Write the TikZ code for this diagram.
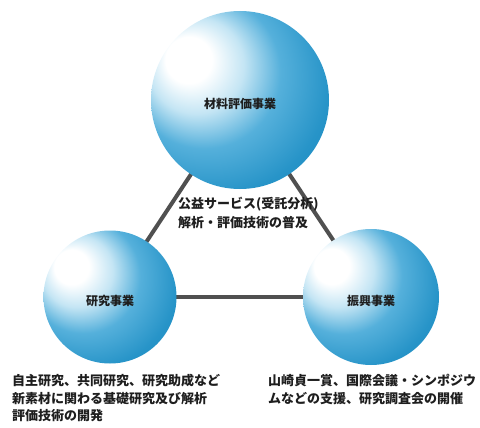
\documentclass[tikz,border=0pt]{standalone}
\usepackage{fontspec}
\newfontfamily\jpfont{Noto Sans CJK JP}
\usetikzlibrary{backgrounds}

\definecolor{textdark}{HTML}{1E1E1E}
\definecolor{linkgray}{HTML}{505050}
\definecolor{spherelight}{HTML}{C4E5F4}
\definecolor{spheremid}{HTML}{55B0DB}
\definecolor{spheredeep}{HTML}{2794C8}
\definecolor{spheredark}{HTML}{1181B8}
\definecolor{sphereedge}{HTML}{0A74A6}
% the sphere outline sits at about 35bp in shading units
\pgfdeclareradialshading{sphereshade}{\pgfpoint{-16.3bp}{12.7bp}}{%
  color(0bp)=(white); color(6.5bp)=(white); color(13.5bp)=(spherelight);
  color(21.5bp)=(spheremid); color(32bp)=(spheredeep);
  color(46bp)=(spheredark); color(56.6bp)=(sphereedge)}

\begin{document}
\begin{tikzpicture}[x=1pt, y=-1pt,
  sphere/.style={circle, shading=sphereshade, inner sep=0pt},
  sphere label/.style={yshift=-4pt, inner sep=0pt, text=textdark,
    font=\jpfont\bfseries\fontsize{12}{14}\selectfont},
  note/.style={align=left, inner sep=0pt, text=textdark, anchor=north west,
    font=\jpfont\bfseries\fontsize{13}{17.5}\selectfont},
  link/.style={linkgray, line width=4pt}]
  \useasboundingbox (0,0) rectangle (480,428);
  % Spheres
  \node[sphere, minimum size=178pt,
    label={[sphere label, name=evaltext]center:材料評価事業}] (eval) at (240,100) {};
  \node[sphere, minimum size=133pt,
    label={[sphere label, name=researchtext]center:研究事業}] (research) at (110,297) {};
  \node[sphere, minimum size=136pt,
    label={[sphere label, name=promotext]center:振興事業}] (promo) at (371,297) {};
  % Links behind the spheres
  \begin{pgfonlayer}{background}
    \draw[link] (eval.center) -- (research.center);
    \draw[link] (research.center) -- (promo.center);
    \draw[link] (promo.center) -- (eval.center);
  \end{pgfonlayer}
  % Notes
  \node[note, font=\jpfont\bfseries\fontsize{13}{19}\selectfont] (evalnote) at (178,197)
    {公益サービス(受託分析)\\解析・評価技術の普及};
  \node[note] (researchnote) at (12,374)
    {自主研究、共同研究、研究助成など\\新素材に関わる基礎研究及び解析\\評価技術の開発};
  \node[note] (promonote) at (268,374)
    {山崎貞一賞、国際会議・シンポジウ\\ムなどの支援、研究調査会の開催};
\end{tikzpicture}
\end{document}
